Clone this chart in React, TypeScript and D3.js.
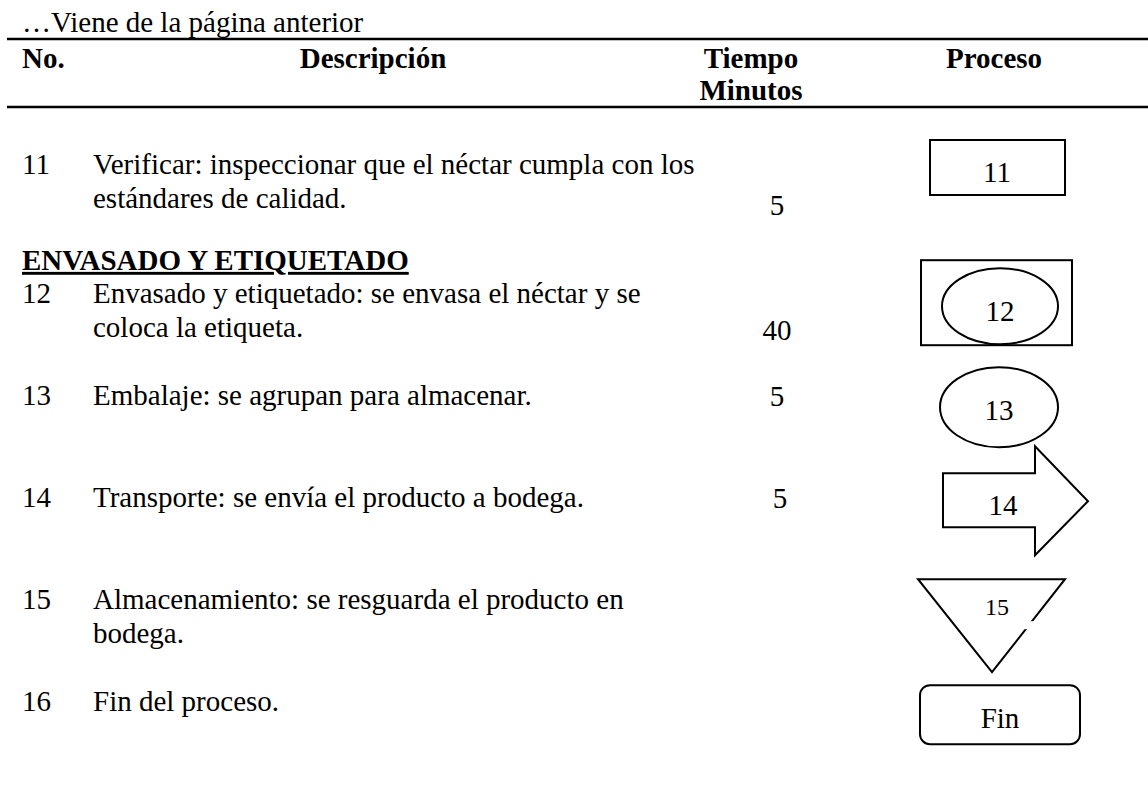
import * as d3 from 'd3';
import React from 'react';

// --- data ---
const continuation = '…Viene de la página anterior';
const headerLabels = ['No.', 'Descripción', 'Tiempo', 'Proceso'];
const headerSubLabel = 'Minutos';
const sectionTitle = 'ENVASADO Y ETIQUETADO';
const stepNumbers = ['11', '12', '13', '14', '15', '16'];
const descriptionLines = [
    ['Verificar: inspeccionar que el néctar cumpla con los', 'estándares de calidad.'],
    ['Envasado y etiquetado: se envasa el néctar y se', 'coloca la etiqueta.'],
    ['Embalaje: se agrupan para almacenar.'],
    ['Transporte: se envía el producto a bodega.'],
    ['Almacenamiento: se resguarda el producto en', 'bodega.'],
    ['Fin del proceso.'],
];
const minutes: (number | null)[] = [5, 40, 5, 5, null, null];
const shapeKinds = ['inspection', 'combined', 'operation', 'transport', 'storage', 'terminal'];
const shapeLabels = ['11', '12', '13', '14', '15', 'Fin'];

// layout, in text-line units
const rowLine = [0, 3.8, 6.8, 9.8, 12.8, 15.8];
const sectionLine = 2.82;
const minuteLine = [1.2, 1.08, 0.03, 0.03, 0, 0];
const minuteShift = [0, 0, 0, 3, 0, 0];

const W = 1148;
const H = 808;
const FONT = '"Liberation Serif", "Times New Roman", serif';
const FS = 29;

const colX = d3
    .scaleOrdinal<string, number>()
    .domain(['no', 'desc', 'time', 'shape'])
    .range([22, 93, 777, 997]);

const headerX = d3
    .scaleOrdinal<string, number>()
    .domain(headerLabels)
    .range([22, 373, 751, 994]);

const y = d3.scaleLinear().domain([0, 1]).range([174, 208]);

const line = d3.line<[number, number]>();

function Shape({ kind, label, cx, cy }: { kind: string; label: string; cx: number; cy: number }) {
    const stroke = { fill: 'white', stroke: 'black', strokeWidth: 2 };
    const txt = (dx: number, dy: number, size = FS) => (
        <text x={cx + dx} y={cy + dy} textAnchor="middle" fontSize={size}>
            {label}
        </text>
    );
    switch (kind) {
        case 'inspection':
            return (
                <g>
                    <rect x={cx - 67} y={cy - 34} width={135} height={55} {...stroke} />
                    {txt(0, 8)}
                </g>
            );
        case 'combined':
            return (
                <g>
                    <rect x={cx - 76} y={cy - 43} width={151} height={85} {...stroke} />
                    <ellipse cx={cx + 3} cy={cy + 3} rx={58} ry={38} {...stroke} />
                    {txt(3, 18)}
                </g>
            );
        case 'operation':
            return (
                <g>
                    <ellipse cx={cx + 2} cy={cy + 2} rx={59} ry={40} {...stroke} />
                    {txt(2, 15)}
                </g>
            );
        case 'transport': {
            const pts: [number, number][] = [
                [cx - 54, cy - 34],
                [cx + 38, cy - 34],
                [cx + 38, cy - 61],
                [cx + 91, cy - 6],
                [cx + 38, cy + 48],
                [cx + 38, cy + 20],
                [cx - 54, cy + 20],
            ];
            return (
                <g>
                    <path d={line(pts) + 'Z'} {...stroke} strokeLinejoin="miter" />
                    {txt(6, 8)}
                </g>
            );
        }
        case 'storage': {
            const pts: [number, number][] = [
                [cx - 79, cy - 30],
                [cx + 68, cy - 30],
                [cx - 5, cy + 63],
            ];
            return (
                <g>
                    <path d={line(pts) + 'Z'} {...stroke} />
                    <rect x={cx + 14} y={cy + 12} width={24} height={8} fill="white" />
                    {txt(0, 6, 24)}
                </g>
            );
        }
        default:
            return (
                <g>
                    <rect x={cx - 77} y={cy - 26} width={160} height={59} rx={10} {...stroke} />
                    {txt(3, 17)}
                </g>
            );
    }
}

export default function App() {
    return (
        <svg
            width={W}
            height={H}
            style={{ position: 'absolute', left: 0, top: 0, background: 'white' }}
            fontFamily={FONT}
            fontSize={FS}
            fill="black"
        >
            <rect width={W} height={H} fill="white" />
            <text x={22} y={32}>{continuation}</text>
            <line x1={7} x2={W} y1={39} y2={39} stroke="black" strokeWidth={2.5} />
            <g fontWeight="bold">
                {headerLabels.map((h, i) => (
                    <text key={h} x={headerX(h)} y={68} textAnchor={i === 0 ? 'start' : 'middle'}>
                        {h}
                    </text>
                ))}
                <text x={headerX('Tiempo')} y={100} textAnchor="middle">
                    {headerSubLabel}
                </text>
            </g>
            <line x1={7} x2={W} y1={107} y2={107} stroke="black" strokeWidth={2.5} />

            <text x={22} y={y(sectionLine)} fontWeight="bold" textDecoration="underline">
                {sectionTitle}
            </text>

            {stepNumbers.map((n, i) => {
                const y0 = y(rowLine[i]);
                return (
                    <g key={n}>
                        <text x={colX('no')} y={y0}>{n}</text>
                        {descriptionLines[i].map((t, j) => (
                            <text key={j} x={colX('desc')} y={y(rowLine[i] + j)}>
                                {t}
                            </text>
                        ))}
                        {minutes[i] !== null && (
                            <text
                                x={colX('time') + minuteShift[i]}
                                y={y(rowLine[i] + minuteLine[i])}
                                textAnchor="middle"
                            >
                                {minutes[i]}
                            </text>
                        )}
                        <Shape kind={shapeKinds[i]} label={shapeLabels[i]} cx={colX('shape')} cy={y0} />
                    </g>
                );
            })}
        </svg>
    );
}
